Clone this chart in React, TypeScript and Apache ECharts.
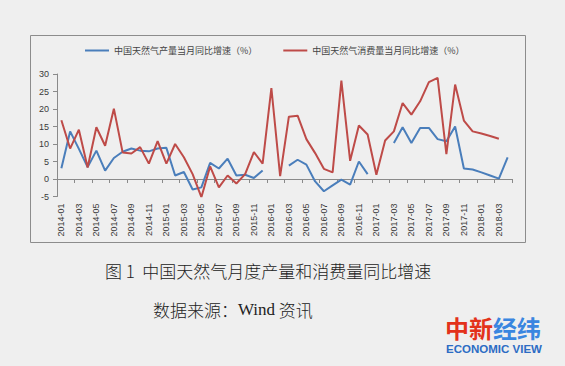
import React, { useEffect, useRef } from "react";
import * as echarts from "echarts";

const categories = [
  "2014-01","2014-02","2014-03","2014-04","2014-05","2014-06","2014-07","2014-08","2014-09","2014-10","2014-11","2014-12",
  "2015-01","2015-02","2015-03","2015-04","2015-05","2015-06","2015-07","2015-08","2015-09","2015-10","2015-11","2015-12",
  "2016-01","2016-02","2016-03","2016-04","2016-05","2016-06","2016-07","2016-08","2016-09","2016-10","2016-11","2016-12",
  "2017-01","2017-02","2017-03","2017-04","2017-05","2017-06","2017-07","2017-08","2017-09","2017-10","2017-11","2017-12",
  "2018-01","2018-02","2018-03","2018-04",
];

const productionGrowth = [
  3.1, 13.6, 8.6, 3.4, 8.1, 2.4, 6.0, 7.8, 8.7, 8.1, 7.9, 8.7,
  8.9, 1.0, 2.0, -3.0, -2.4, 4.6, 3.0, 5.8, 1.0, 1.2, 0.3, 2.4,
  null, null, 3.8, 5.5, 4.1, -0.7, -3.5, -1.8, -0.2, -1.6, 5.0, 1.4,
  null, null, 10.3, 14.8, 10.3, 14.6, 14.6, 11.4, 10.8, 15.0, 3.0, 2.7,
  1.9, 1.0, 0.1, 6.2,
];

const consumptionGrowth = [
  16.8, 8.7, 14.1, 3.3, 14.8, 9.5, 20.1, 7.6, 7.3, 9.1, 4.4, 10.8,
  4.4, 10.0, 6.2, 1.4, -5.2, 3.6, -2.4, 1.0, -1.3, 1.4, 7.7, 4.4,
  26.0, 0.8, 17.8, 18.1, 11.4, 7.4, 2.9, 1.9, 28.1, 5.2, 15.3, 12.7,
  1.2, 11.0, 13.6, 21.7, 18.4, 22.2, 27.7, 28.9, 7.1, 27.0, 16.7, 13.6,
  13.0, 12.3, 11.5, null,
];

const yMin = -5;
const yMax = 30;
const yStep = 5;

const seriesNames = ["中国天然气产量当月同比增速（%）", "中国天然气消费量当月同比增速（%）"];
const captionTitle = "图 1  中国天然气月度产量和消费量同比增速";
const captionSource = ["数据来源：", "Wind", " 资讯"];

export default function App() {
  const ref = useRef<HTMLDivElement>(null);
  useEffect(() => {
    if (!ref.current) return;
    const chart = echarts.init(ref.current, undefined, { renderer: "svg" });
    const axisColor = "#8a8a8a";
    const labelColor = "#3a3a3a";
    const gridHeight = 122.5;
    const zeroOffset = -(gridHeight * (0 - yMin)) / (yMax - yMin);
    chart.setOption({
      animation: false,
      backgroundColor: "#efefef",
      textStyle: { fontFamily: "Liberation Sans, Arial, sans-serif" },
      legend: {
        left: 85,
        top: 46,
        padding: 0,
        itemWidth: 24,
        itemHeight: 2,
        itemGap: 26,
        icon: "rect",
        textStyle: { fontSize: 9, color: "#444", fontFamily: "Noto Sans CJK SC" },
        data: seriesNames,
      },
      grid: { left: 57, right: 53, top: 74, height: gridHeight },
      xAxis: [
        {
          type: "category",
          data: categories,
          boundaryGap: true,
          position: "bottom",
          axisLine: { show: false, onZero: false },
          axisTick: { show: false },
          axisLabel: { interval: 1, rotate: 90, margin: 7, fontSize: 9, color: labelColor },
          splitLine: { show: false },
        },
        {
          type: "category",
          data: categories,
          boundaryGap: true,
          position: "bottom",
          offset: zeroOffset,
          axisLine: { show: true, onZero: false, lineStyle: { color: axisColor, width: 1 } },
          axisTick: { show: true, interval: 1, length: 4, lineStyle: { color: axisColor } },
          axisLabel: { show: false },
          splitLine: { show: false },
        },
      ],
      yAxis: {
        type: "value",
        min: yMin,
        max: yMax,
        interval: yStep,
        axisLine: { show: true, onZero: false, lineStyle: { color: axisColor, width: 1 } },
        axisTick: { show: true, length: 4, lineStyle: { color: axisColor } },
        axisLabel: { fontSize: 9, color: labelColor, margin: 8, showMinLabel: true, showMaxLabel: true },
        splitLine: { show: false },
      },
      series: [
        {
          name: seriesNames[0],
          type: "line",
          xAxisIndex: 0,
          data: productionGrowth,
          showSymbol: false,
          connectNulls: false,
          lineStyle: { color: "#4a7ebb", width: 2 },
          itemStyle: { color: "#4a7ebb" },
        },
        {
          name: seriesNames[1],
          type: "line",
          xAxisIndex: 0,
          data: consumptionGrowth,
          showSymbol: false,
          connectNulls: false,
          lineStyle: { color: "#be4b48", width: 2 },
          itemStyle: { color: "#be4b48" },
        },
      ],
      graphic: [
        {
          type: "rect",
          silent: true,
          shape: { x: 30.5, y: 35.5, width: 495, height: 207 },
          style: { fill: "none", stroke: "#8c8c8c", lineWidth: 1 },
        },
        {
          type: "text",
          x: 105,
          y: 270,
          style: {
            text: captionTitle,
            fontSize: 17,
            fontWeight: 300,
            fill: "#222",
            fontFamily: "Noto Sans CJK SC",
            textVerticalAlign: "middle",
          },
        },
        {
          type: "text",
          x: 153,
          y: 309,
          style: {
            text: `{a|${captionSource[0]}}{b|${captionSource[1]}}{a|${captionSource[2]}}`,
            fill: "#222",
            textVerticalAlign: "middle",
            rich: {
              a: { fontSize: 17, fontWeight: 300, fontFamily: "Noto Sans CJK SC", fill: "#222" },
              b: { fontSize: 17, fontWeight: "normal", fontFamily: "Liberation Serif", fill: "#222" },
            },
          },
        },
        {
          type: "text",
          x: 445,
          y: 327,
          style: {
            text: "{r|中新}{b|经纬}",
            textVerticalAlign: "middle",
            rich: {
              r: { fontSize: 24, fontWeight: "bold", fontFamily: "Noto Sans CJK SC", fill: "#e3321b" },
              b: { fontSize: 24, fontWeight: "bold", fontFamily: "Noto Sans CJK SC", fill: "#3a86e0" },
            },
          },
        },
        {
          type: "text",
          x: 494,
          y: 348.5,
          style: {
            text: "ECONOMIC VIEW",
            fontSize: 11.5,
            fontWeight: "bold",
            fontFamily: "Liberation Sans",
            fill: "#2c6cc4",
            textAlign: "center",
            textVerticalAlign: "middle",
          },
        },
      ],
    });
    return () => chart.dispose();
  }, []);
  return (
    <div
      ref={ref}
      style={{ position: "absolute", left: 0, top: 0, width: 565, height: 366 }}
    />
  );
}
